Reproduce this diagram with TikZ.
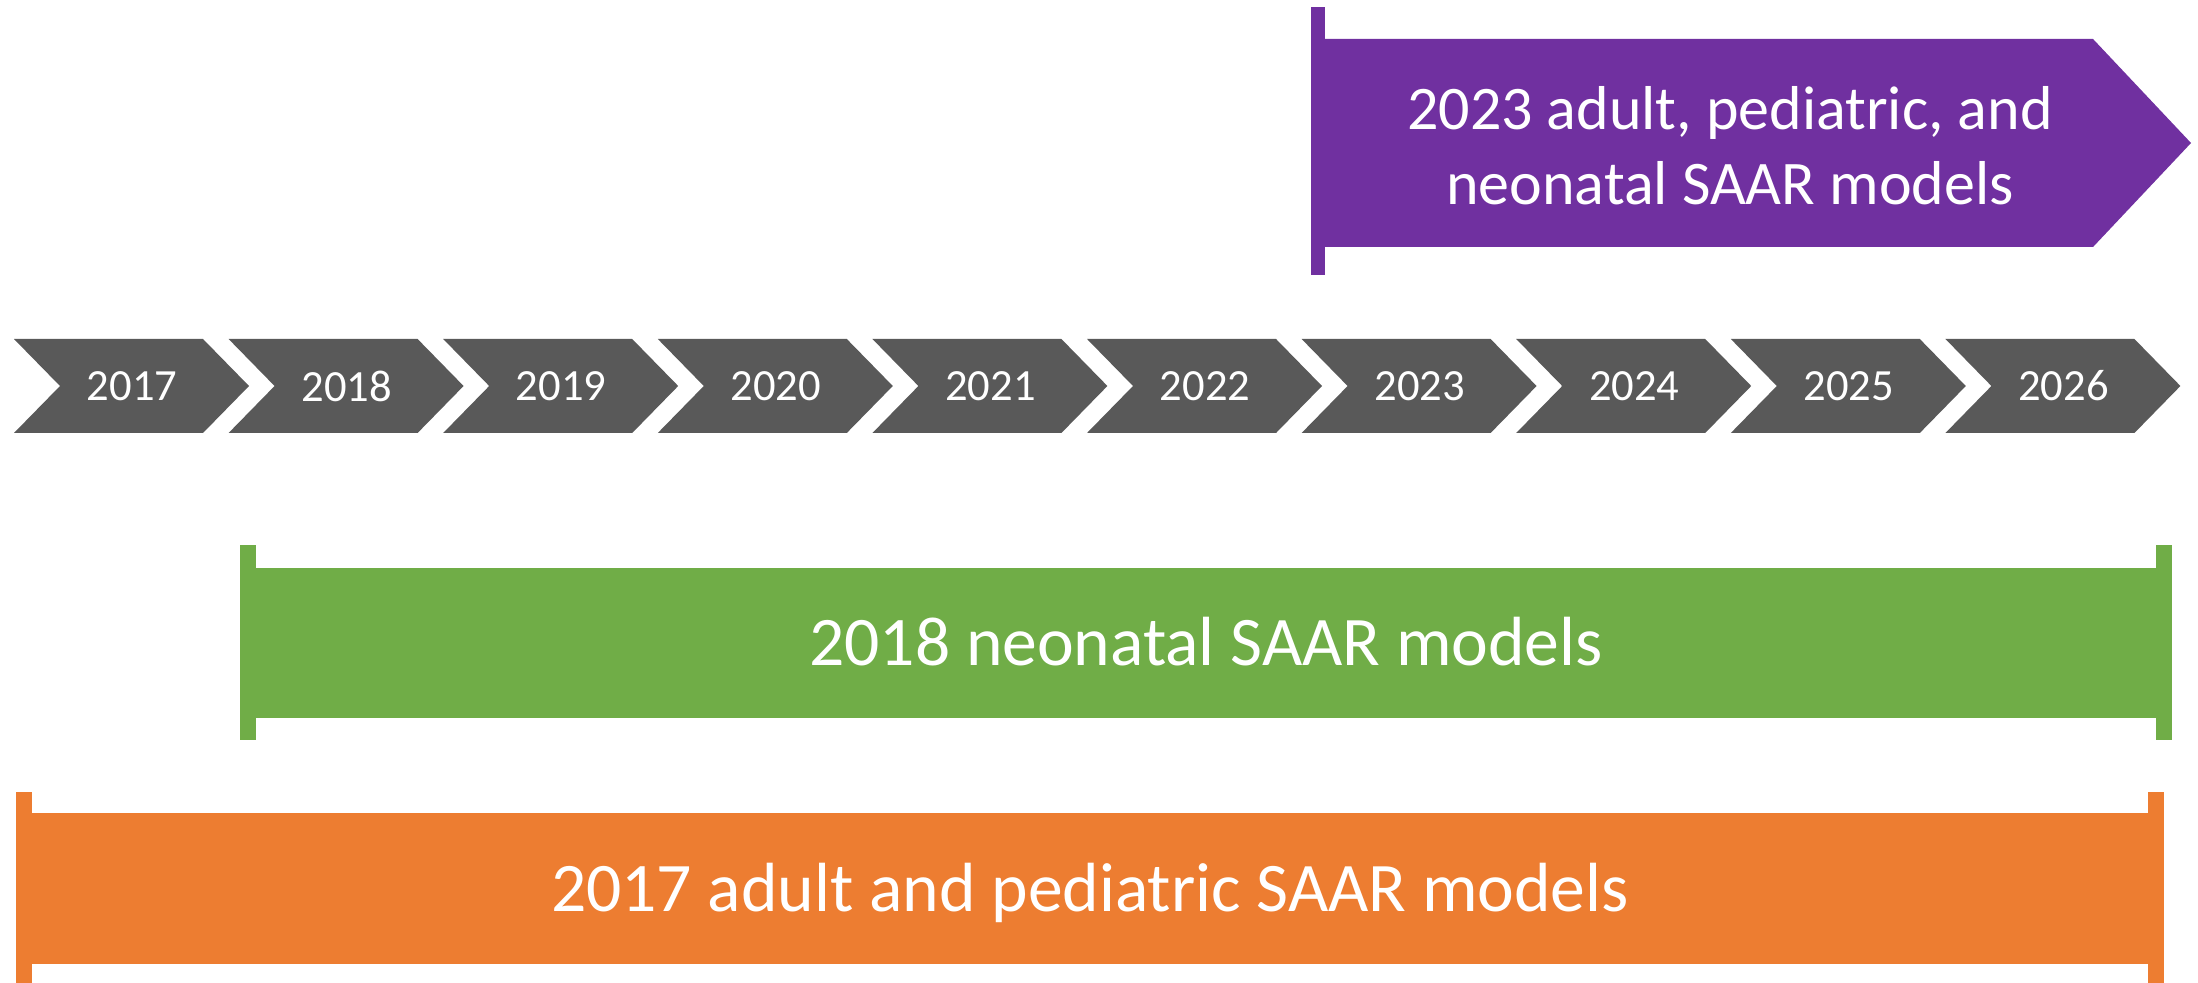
\documentclass[tikz,border=0pt]{standalone}
\usepackage{fontspec}
\setmainfont{Carlito}

\definecolor{yeargray}{HTML}{595959}
\definecolor{purplebar}{HTML}{7030A0}
\definecolor{greenbar}{HTML}{70AD47}
\definecolor{orangebar}{HTML}{ED7D31}

\begin{document}
\begin{tikzpicture}[x=0.5pt, y=-0.5pt,
    yeartext/.style={text=white, font=\fontsize{22.3}{27}\selectfont},
    bartext/.style={text=white, font=\fontsize{34.8}{41}\selectfont}]
        \useasboundingbox (0,0) rectangle (2198,983);

        % 2023 model bar
        \fill[purplebar] (1311,7) rectangle (1325,275);
        \fill[purplebar] (1325,39) -- (2093,39) -- (2191,143) -- (2093,247) -- (1325,247) -- cycle;
        \node[text=white, align=center, font=\fontsize{31}{37.5}\selectfont] (m2023) at (1730,145.5) {2023 adult, pediatric, and\\neonatal SAAR models};

        % Year chevrons
        \fill[yeargray] (14,339) -- ++(189,0) -- ++(46,47) -- ++(-46,47) -- ++(-189,0) -- ++(46,-47) -- cycle;
        \fill[yeargray] (228.6,339) -- ++(189,0) -- ++(46,47) -- ++(-46,47) -- ++(-189,0) -- ++(46,-47) -- cycle;
        \fill[yeargray] (443.2,339) -- ++(189,0) -- ++(46,47) -- ++(-46,47) -- ++(-189,0) -- ++(46,-47) -- cycle;
        \fill[yeargray] (657.8,339) -- ++(189,0) -- ++(46,47) -- ++(-46,47) -- ++(-189,0) -- ++(46,-47) -- cycle;
        \fill[yeargray] (872.4,339) -- ++(189,0) -- ++(46,47) -- ++(-46,47) -- ++(-189,0) -- ++(46,-47) -- cycle;
        \fill[yeargray] (1087,339) -- ++(189,0) -- ++(46,47) -- ++(-46,47) -- ++(-189,0) -- ++(46,-47) -- cycle;
        \fill[yeargray] (1301.6,339) -- ++(189,0) -- ++(46,47) -- ++(-46,47) -- ++(-189,0) -- ++(46,-47) -- cycle;
        \fill[yeargray] (1516.2,339) -- ++(189,0) -- ++(46,47) -- ++(-46,47) -- ++(-189,0) -- ++(46,-47) -- cycle;
        \fill[yeargray] (1730.8,339) -- ++(189,0) -- ++(46,47) -- ++(-46,47) -- ++(-189,0) -- ++(46,-47) -- cycle;
        \fill[yeargray] (1945.4,339) -- ++(189,0) -- ++(46,47) -- ++(-46,47) -- ++(-189,0) -- ++(46,-47) -- cycle;

        % Year labels
        \node[yeartext] (y2017) at (132,386) {2017};
        \node[yeartext] (y2018) at (346.6,386) {2018};
        \node[yeartext] (y2019) at (561.2,386) {2019};
        \node[yeartext] (y2020) at (775.8,386) {2020};
        \node[yeartext] (y2021) at (990.4,386) {2021};
        \node[yeartext] (y2022) at (1205,386) {2022};
        \node[yeartext] (y2023) at (1419.6,386) {2023};
        \node[yeartext] (y2024) at (1634.2,386) {2024};
        \node[yeartext] (y2025) at (1848.8,386) {2025};
        \node[yeartext] (y2026) at (2063.4,386) {2026};

        % 2018 model bar
        \fill[greenbar] (240,545) rectangle (256,740);
        \fill[greenbar] (256,568) rectangle (2156,718);
        \fill[greenbar] (2156,545) rectangle (2172,740);
        \node[bartext, anchor=base] (m2018) at (1206,665) {2018 neonatal SAAR models};

        % 2017 model bar
        \fill[orangebar] (16,792) rectangle (32,990);
        \fill[orangebar] (32,813) rectangle (2148,964);
        \fill[orangebar] (2148,792) rectangle (2164,990);
        \node[bartext, anchor=base] (m2017) at (1090,911) {2017 adult and pediatric SAAR models};
      \end{tikzpicture}
\end{document}
